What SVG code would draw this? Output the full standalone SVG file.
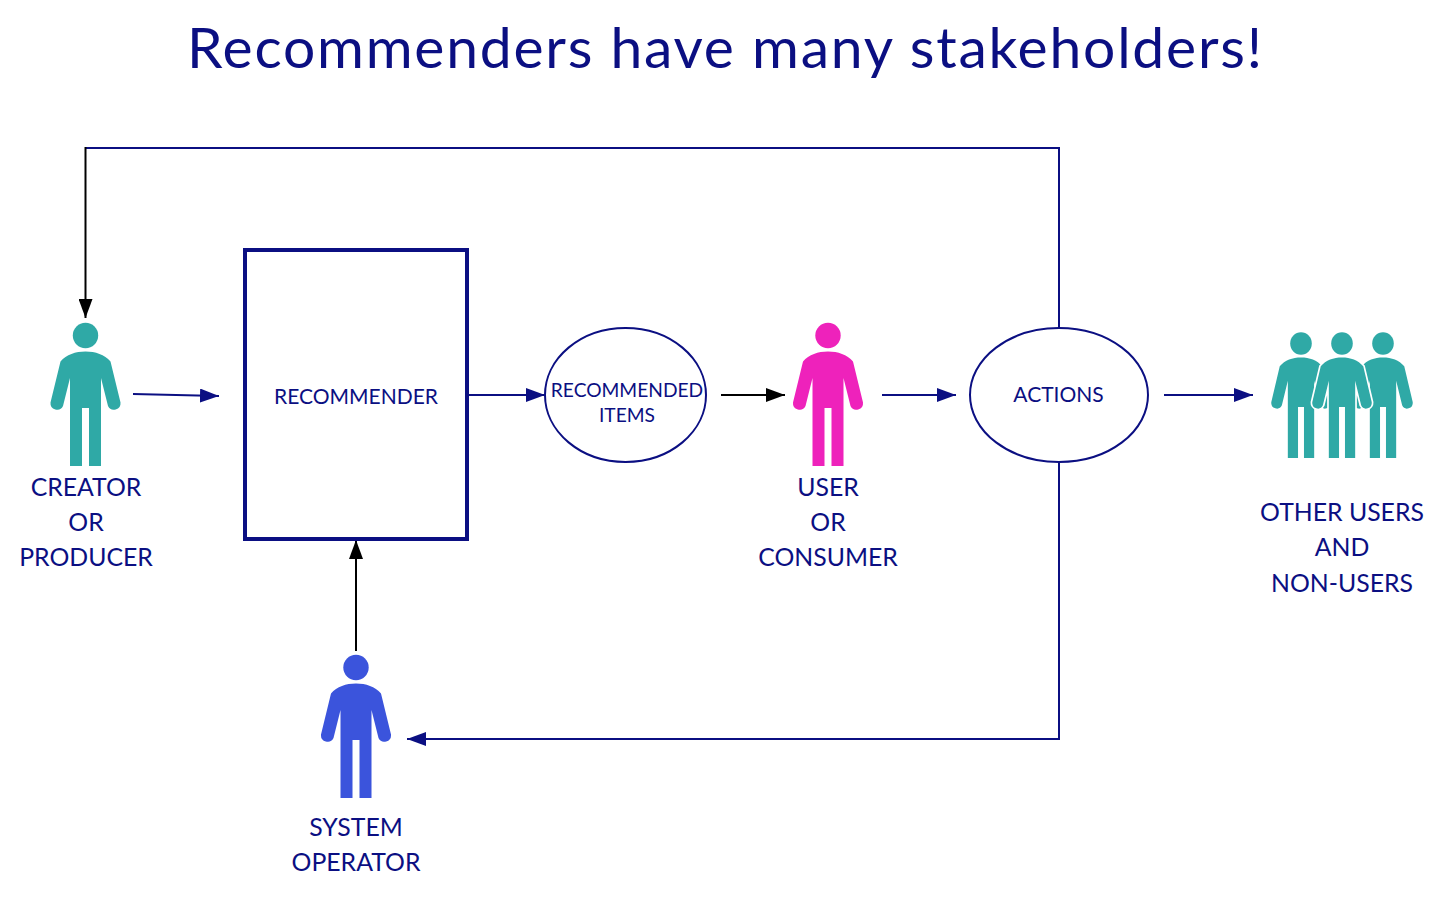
<svg xmlns="http://www.w3.org/2000/svg" width="1456" height="905" viewBox="0 0 1456 905">
<style>
text{font-family:Lato,"Liberation Sans",sans-serif;fill:#0b0f82;text-anchor:middle}
.l{font-size:24.8px}
.s{font-size:21px}
.i{font-size:19.2px}
.n{fill:none;stroke:#0b0f82;stroke-width:2}
.k{fill:none;stroke:#000;stroke-width:2}
</style>
<defs>
<marker id="ab" markerUnits="userSpaceOnUse" markerWidth="20" markerHeight="14" refX="19" refY="7" orient="auto"><path d="M0,0L19,7L0,14Z" fill="#0b0f82"/></marker>
<marker id="ak" markerUnits="userSpaceOnUse" markerWidth="20" markerHeight="14" refX="19" refY="7" orient="auto"><path d="M0,0L19,7L0,14Z" fill="#000"/></marker>
<g id="person"><circle cx="0" cy="0" r="12.7"/><path d="M0,16C-10,16-19,19-25,26L-35,67A6.6,6.6 0 0 0-22.500,70.500L-15.500,42.500V130.500H-3.500V72.500H3.500V130.500H15.500V42.500L22.500,70.500A6.600,6.600 0 0 0 35,67L25,26C19,19 10,16 0,16Z"/></g>
</defs>
<rect width="1456" height="905" fill="#fff"/>
<text id="title" x="724.500" y="67.500" textLength="1075" lengthAdjust="spacing" style="font-size:57px;font-weight:400">Recommenders have many stakeholders!</text>
<g id="connectors">
<path class="n" d="M1059,328V148H85"/>
<path class="k" marker-end="url(#ak)" d="M85.500,147V318"/>
<path class="n" marker-end="url(#ab)" d="M133,394L219,396"/>
<path class="n" marker-end="url(#ab)" d="M468,395H545"/>
<path class="k" marker-end="url(#ak)" d="M721,395H785"/>
<path class="n" marker-end="url(#ab)" d="M882,395H956"/>
<path class="n" marker-end="url(#ab)" d="M1164,395H1253"/>
<path class="k" marker-end="url(#ak)" d="M356,651V540"/>
<path class="n" marker-end="url(#ab)" d="M1059,462V739H407"/>
</g>
<g id="recommender"><rect x="245" y="250" width="222" height="289" fill="#fff" stroke="#0b0f82" stroke-width="4"/><text class="s" x="356" y="404">RECOMMENDER</text></g>
<g id="items"><ellipse cx="625.500" cy="395" rx="80.500" ry="67" fill="#fff" stroke="#0b0f82" stroke-width="2"/><text class="i" x="627" y="397">RECOMMENDED</text><text class="i" x="627" y="422">ITEMS</text></g>
<g id="actions"><ellipse cx="1059" cy="395" rx="89" ry="67" fill="#fff" stroke="#0b0f82" stroke-width="2"/><text class="s" x="1058.500" y="402">ACTIONS</text></g>
<g id="creator"><use href="#person" x="85.500" y="335.500" fill="#2fa9a6"/><text class="l" x="86" y="496">CREATOR</text><text class="l" x="86" y="531">OR</text><text class="l" x="86" y="566">PRODUCER</text></g>
<g id="user"><use href="#person" x="828" y="335.500" fill="#ee22bb"/><text class="l" x="828" y="496">USER</text><text class="l" x="828" y="531">OR</text><text class="l" x="828" y="566">CONSUMER</text></g>
<g id="operator"><use href="#person" x="356" y="667.500" fill="#3b54dc"/><text class="l" x="356" y="836">SYSTEM</text><text class="l" x="356" y="871">OPERATOR</text></g>
<g id="others">
<use href="#person" transform="translate(1301 343.500) scale(.85 .877)" fill="#2fa9a6"/>
<use href="#person" transform="translate(1383 343.500) scale(.85 .877)" fill="#2fa9a6"/>
<use href="#person" transform="translate(1342 343.500) scale(.85 .877)" fill="#2fa9a6" stroke="#fff" stroke-width="4" paint-order="stroke"/>
<text class="l" x="1342" y="521">OTHER USERS</text><text class="l" x="1342" y="556">AND</text><text class="l" x="1342" y="592">NON-USERS</text></g>
</svg>
